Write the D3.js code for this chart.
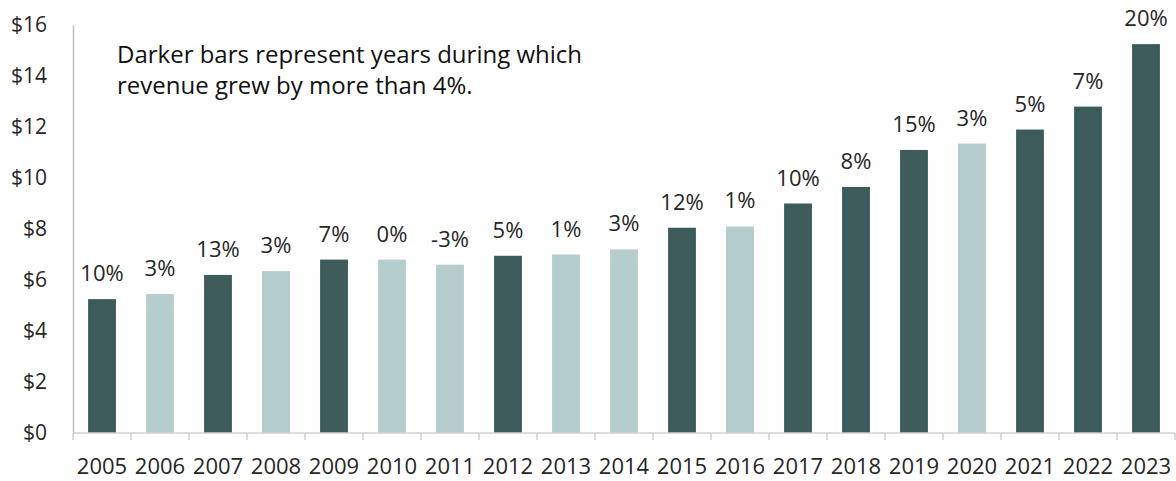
<!DOCTYPE html>
<html>
<head>
<meta charset="utf-8">
<script src="https://cdn.jsdelivr.net/npm/d3@7"></script>
<style>
  body { margin: 0; background: #fff; }
  svg { display: block; font-family: "Open Sans", "Noto Sans", sans-serif; }
</style>
</head>
<body>
<svg id="chart" width="1176" height="481"></svg>
<script>
// Chart data
const years = ["2005","2006","2007","2008","2009","2010","2011","2012","2013","2014",
               "2015","2016","2017","2018","2019","2020","2021","2022","2023"];
const revenue = [5.25, 5.45, 6.2, 6.35, 6.8, 6.8, 6.6, 6.95, 7.0, 7.2,
                 8.05, 8.1, 9.0, 9.65, 11.1, 11.35, 11.9, 12.8, 15.25];
const growth = [10, 3, 13, 3, 7, 0, -3, 5, 1, 3, 12, 1, 10, 8, 15, 3, 5, 7, 20];
const yTicks = [0, 2, 4, 6, 8, 10, 12, 14, 16];
const noteLines = ["Darker bars represent years during which", "revenue grew by more than 4%."];

const data = years.map((y, i) => ({ year: y, value: revenue[i], growth: growth[i] }));

const width = 1176;
const height = 481;
const margin = { top: 25, right: 1, bottom: 48, left: 73 };

const svg = d3.select("#chart");

const x = d3.scaleBand()
    .domain(years)
    .range([margin.left, width - margin.right])
    .paddingInner(0.52)
    .paddingOuter(0.26);

const y = d3.scaleLinear()
    .domain([0, 16])
    .range([height - margin.bottom, margin.top]);

// bars
svg.append("g")
  .selectAll("rect")
  .data(data)
  .join("rect")
    .attr("x", d => x(d.year))
    .attr("width", x.bandwidth())
    .attr("y", d => y(d.value))
    .attr("height", d => y(0) - y(d.value))
    .attr("fill", d => d.growth > 4 ? "#3d5b5b" : "#b5cdcd");

// growth labels
svg.append("g")
  .selectAll("text")
  .data(data)
  .join("text")
    .attr("x", d => x(d.year) + x.bandwidth() / 2)
    .attr("y", d => y(d.value) - 18)
    .attr("text-anchor", "middle")
    .attr("font-size", 22)
    .attr("fill", "#262626")
    .text(d => d.growth + "%");

// y axis
const yAxis = svg.append("g")
    .attr("transform", `translate(${margin.left},0)`)
    .call(d3.axisLeft(y).tickValues(yTicks).tickSize(0).tickPadding(26).tickFormat(d => "$" + d));
yAxis.attr("font-family", null).attr("font-size", null);
yAxis.select(".domain").attr("stroke", "#bfbfbf").attr("stroke-width", 1.5);
yAxis.selectAll("text").attr("font-size", 21).attr("fill", "#262626");

// x axis: ticks at band boundaries
const bounds = d3.range(years.length + 1).map(i => margin.left + i * (width - margin.right - margin.left) / years.length);
const xAxisG = svg.append("g");
xAxisG.append("line")
    .attr("x1", margin.left).attr("x2", width - margin.right)
    .attr("y1", y(0)).attr("y2", y(0))
    .attr("stroke", "#d0d0d0").attr("stroke-width", 1.5);
xAxisG.selectAll("line.tick")
  .data(bounds)
  .join("line")
    .attr("class", "tick")
    .attr("x1", d => d).attr("x2", d => d)
    .attr("y1", y(0)).attr("y2", y(0) + 7)
    .attr("stroke", "#d0d0d0").attr("stroke-width", 1.5);
xAxisG.selectAll("text")
  .data(years)
  .join("text")
    .attr("x", d => x(d) + x.bandwidth() / 2)
    .attr("y", y(0) + 41)
    .attr("text-anchor", "middle")
    .attr("font-size", 22)
    .attr("fill", "#262626")
    .text(d => d);

// note
svg.append("g")
  .selectAll("text")
  .data(noteLines)
  .join("text")
    .attr("x", 117)
    .attr("y", (d, i) => 63 + i * 31)
    .attr("font-size", 24)
    .attr("fill", "#111")
    .text(d => d);
</script>
</body>
</html>
